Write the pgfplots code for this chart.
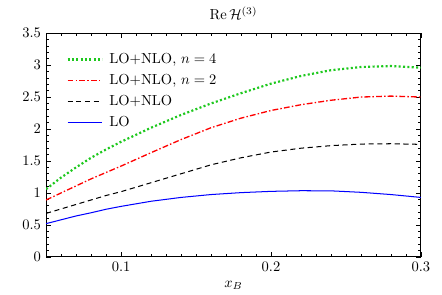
\documentclass[border=0pt]{standalone}
\usepackage{pgfplots}
\pgfplotsset{compat=1.18}
\definecolor{lgreen}{RGB}{30,200,30}
\begin{document}
\begin{tikzpicture}
\begin{axis}[
 scale only axis, width=258pt, height=154pt,
 xmin=0.05, xmax=0.3, ymin=0, ymax=3.5,
 xtick={0.1,0.2,0.3}, xticklabels={$0.1$,$0.2$,$0.3$},
 ytick={0,0.5,1,1.5,2,2.5,3,3.5}, yticklabels={$0$,$0.5$,$1$,$1.5$,$2$,$2.5$,$3$,$3.5$},
 minor xtick={0.05,0.06,...,0.305}, minor ytick={0,0.1,...,3.55},
 tick align=inside, xtick pos=both, ytick pos=both,
 major tick length=3.5pt, minor tick length=2pt,
 axis line style={line width=0.7pt}, every tick/.style={line width=0.5pt, black},
 title={$\mathrm{Re}\,\mathcal{H}^{(3)}$},
 xlabel={$x_B$},
 legend style={draw=none, fill=none, at={(0.042,0.937)}, anchor=north west, row sep=2pt},
 legend image code/.code={\draw[#1] (0pt,0pt) -- (24pt,0pt) (26pt,0pt);},
 legend cell align=left,
]
\addplot[lgreen, line width=1.5pt, dash pattern=on 1.4pt off 1.6pt] coordinates {
(0.05,1.06) (0.06,1.24) (0.07,1.40) (0.08,1.55) (0.09,1.68) (0.10,1.80)
(0.12,2.02) (0.14,2.22) (0.16,2.40) (0.18,2.56) (0.20,2.71) (0.22,2.83)
(0.24,2.92) (0.26,2.97) (0.28,2.985) (0.30,2.96)};
\addlegendentry{LO+NLO, $n=4$}
\addplot[red, line width=0.9pt, dash pattern=on 4pt off 1.5pt on 1pt off 1.5pt] coordinates {
(0.05,0.89) (0.06,1.00) (0.07,1.11) (0.08,1.22) (0.09,1.32) (0.10,1.42)
(0.12,1.63) (0.14,1.835) (0.16,2.02) (0.18,2.17) (0.20,2.29) (0.22,2.38)
(0.24,2.45) (0.26,2.50) (0.28,2.515) (0.30,2.50)};
\addlegendentry{LO+NLO, $n=2$}
\addplot[black, line width=0.7pt, dash pattern=on 3.5pt off 2.5pt] coordinates {
(0.05,0.68) (0.06,0.75) (0.07,0.82) (0.08,0.89) (0.09,0.96) (0.10,1.02)
(0.12,1.16) (0.14,1.30) (0.16,1.44) (0.18,1.55) (0.20,1.64) (0.22,1.70)
(0.24,1.74) (0.26,1.765) (0.28,1.77) (0.30,1.76)};
\addlegendentry{LO+NLO}
\addplot[blue, line width=0.7pt] coordinates {
(0.05,0.52) (0.06,0.58) (0.07,0.64) (0.08,0.69) (0.09,0.745) (0.10,0.79)
(0.12,0.87) (0.14,0.93) (0.16,0.975) (0.18,1.005) (0.20,1.025) (0.22,1.035)
(0.24,1.033) (0.26,1.01) (0.28,0.975) (0.30,0.93)};
\addlegendentry{LO}
\end{axis}
\path ([shift={(-31.7pt,-23.4pt)}]current axis.south west) rectangle ([shift={(14.5pt,22.8pt)}]current axis.north east);
\end{tikzpicture}
\end{document}
